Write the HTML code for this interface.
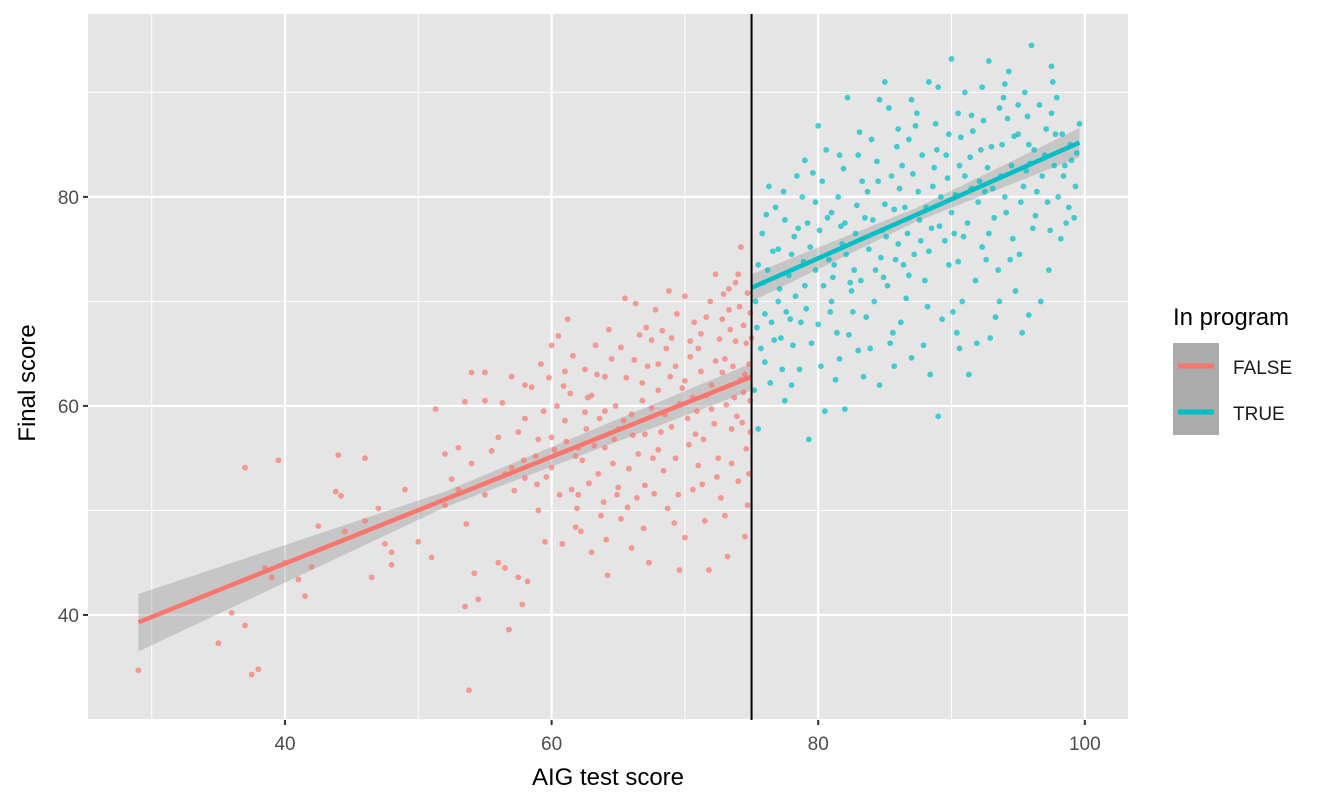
<!DOCTYPE html>
<html><head><meta charset="utf-8"><style>
body{margin:0;background:#fff;}
svg{display:block;font-family:"Liberation Sans",sans-serif;}
</style></head><body>
<svg id="chart" width="1344" height="806">
<rect x="88" y="14" width="1040" height="706" fill="#E5E5E5"/>
<g id="grid"></g><g id="ribbons"></g><g id="points"></g><g id="lines"></g><g id="axes"></g>
<line id="cutoff" stroke="#000" stroke-width="2"/>
<text x="608" y="785" font-size="24" text-anchor="middle" fill="#000">AIG test score</text>
<text transform="translate(35,383) rotate(-90)" font-size="24" text-anchor="middle" fill="#000">Final score</text>
<g>
<text x="1173" y="325" font-size="24" fill="#000">In program</text>
<rect x="1173" y="343" width="46" height="46" fill="#ABABAB"/>
<rect x="1173" y="389" width="46" height="46" fill="#ABABAB"/>
<line x1="1178" x2="1214" y1="366" y2="366" stroke="#F8766D" stroke-width="5"/>
<line x1="1178" x2="1214" y1="412" y2="412" stroke="#00BFC4" stroke-width="5"/>
<text x="1233" y="374" font-size="19" fill="#1a1a1a">FALSE</text>
<text x="1233" y="420" font-size="19" fill="#1a1a1a">TRUE</text>
</g>
</svg>
<script>
const xTicks=[40,60,80,100];
const xMinor=[30,50,70,90];
const yTicks=[40,60,80];
const yMinor=[30,50,70,90];
const cutoff=75;
const falsePts=[[29,34.7],[35,37.3],[36,40.2],[37,39],[37.5,34.3],[38,34.8],[37,54.1],[39.5,54.8],[39,43.6],[38.5,44.5],[40,45],[41,43.4],[41.5,41.8],[42,44.6],[42.5,48.5],[43.8,51.8],[44.2,51.4],[44,55.3],[44.5,48],[46,55],[46,49],[46.5,43.6],[47,50.2],[47.5,46.8],[48,44.8],[48,46],[51,45.5],[51.3,59.7],[52,55.4],[52.5,53],[53,52],[53.5,60.4],[53.6,48.7],[54,63.2],[54.2,44],[54.5,41.5],[53.8,32.8],[53.5,40.8],[55,63.2],[55.5,55.7],[56,45],[56.5,44.5],[56.8,38.6],[57,62.8],[57.5,43.6],[57.8,41],[58,58.8],[58,53.1],[58.5,61.8],[58.2,43.2],[59,50],[59.5,47],[60,65.8],[60,57],[60.5,66.7],[61,63.3],[61.2,68.3],[61.5,52],[61.8,48.4],[62,56],[62.5,59.4],[63,46],[63.5,53.5],[63.7,49.5],[64,62.8],[64.2,43.8],[64.5,64.5],[65,57.8],[65.5,70.3],[65.8,54],[66,46.4],[66.3,69.8],[66.8,60.5],[67,52.4],[67.3,45],[67.5,66.3],[68,61.5],[68,55.8],[68.3,67.2],[68.7,50.2],[69,58],[69.3,63.8],[69.6,44.3],[70,70.5],[70,47.4],[70.3,56.3],[70.6,60.8],[71,65.5],[71.3,52.5],[71.6,68.5],[71.8,44.3],[72,59.7],[72.3,72.6],[72.5,55],[72.8,63.2],[73,49.5],[73.3,69.2],[73.5,57.8],[73.8,66.2],[74,52.8],[74.2,75.2],[74.4,61.3],[74.6,55.9],[74.8,64],[74.9,68.9],[74.5,47.5],[73.9,59],[73.1,60.1],[72,62],[71,54.3],[70,62.4],[69,66.5],[68,64],[67,57.3],[66,59.2],[65,52.2],[64,56],[63,61],[62,51.5],[61,58.6],[60,54.1],[59,56.8],[58,62],[57,54.1],[56,57],[55,51.5],[54,54.5],[53,56],[52,50.5],[50,47],[49,52],[62.5,63.5],[63.3,65.8],[64.8,60],[65.6,62.7],[66.5,55.4],[67.8,69.2],[68.5,59.2],[69.8,61.7],[70.8,57.3],[71.2,63.3],[72.6,66.4],[73.6,63.8],[74.3,58.4],[74.7,70.8],[73.3,71.2],[71.9,70],[70.4,64.7],[69.3,55],[67.7,51.6],[66.2,64.4],[64.6,54.5],[63.6,58.8],[62.3,54.8],[61.4,61.2],[60.4,60],[59.4,59.5],[58.8,55.2],[57.5,57.5],[56.3,60.3],[55,60.5],[71.5,49],[73.2,45.6],[74.8,53.5],[72.7,51.2],[69.2,48.8],[66.9,48.3],[65.2,49.2],[64.1,47.2],[62.2,48],[60.8,46.8],[74,72.6],[72.8,68.3],[70.7,68],[68.8,71],[67.1,67.5],
[74.6,66],[74.2,62.5],[73.7,60.8],[73,64.5],[72.2,58.3],[71.6,61],[70.9,59.5],[70.2,58.8],[69.6,60.2],[68.9,62.8],[68.2,57.5],[67.5,59.8],[66.8,62.2],[66.1,57.2],[65.4,58.6],[64.7,56.8],[64,59.5],[63.2,56.2],[62.6,57.8],[61.8,55.2],[61.1,56.6],[60.2,55.8],[59.6,53.2],[58.9,52.5],[57.9,54.8],[57.2,51.9],[56.5,53.5],[74.9,57.5],[74.7,50.5],[73.5,54.5],[72.4,53.2],[71.4,56.8],[70.6,52],[69.5,51.5],[68.4,53.8],[67.6,55],[66.4,51.2],[65.7,50.3],[64.9,51.5],[63.9,50.8],[62.8,52.6],[61.9,50.2],[60.6,51.5],[74.4,67.7],[73.4,67.3],[72.3,64.3],[71.2,66.9],[70.4,66.2],[69.4,68.8],[68.6,65.5],[67.2,63.8],[66.6,66.8],[65.2,65.6],[64.3,67.3],[63.4,63],[62.7,60.8],[61.6,64.8],[60.9,61.9],[59.8,62.7],[59.2,64],[75,66.5],[74.9,60.5],[74.5,63],[74.1,69.5],[73.8,71.8],[72.9,70.7]];
const truePts=[[75.5,57.8],[76,64.2],[76.5,68],[77,75],[77.5,60.5],[78,62],[78.3,70.5],[78.8,80],[79,83.5],[79.3,56.8],[79.5,66],[80,67.8],[80,86.8],[80.5,59.5],[80.8,74],[81,78.5],[81.3,62.5],[81.6,84],[82,59.7],[82.2,89.5],[82.5,71],[82.8,76.5],[83,65.3],[83.3,81.5],[83.6,68.5],[84,85.5],[84.3,73],[84.6,62],[85,79.3],[85.3,88.5],[85.6,67],[86,75.5],[86.3,83],[86.6,70.3],[87,64.6],[87.3,86.8],[87.6,77.8],[88,72],[88.3,91],[88.6,81],[89,59],[89.3,68.3],[89.6,84],[90,93.2],[90.2,76.5],[90.5,88],[90.8,70],[91,82],[91.3,63],[91.6,86.3],[92,79.5],[92.3,90.5],[92.6,74],[93,84.8],[93.3,68.5],[93.6,88.5],[94,80],[94.3,92],[94.6,76],[95,86],[95.3,67],[95.6,82.5],[96,94.5],[96.3,78.2],[96.6,88.8],[97,84],[97.3,73],[97.6,91],[98,80],[98.3,86],[98.6,77.5],[99,83.5],[99.3,81],[99.6,87],[75.3,70],[75.8,76.5],[76.2,73],[76.8,79],[77.2,66.5],[77.8,72.5],[78.5,77],[79.8,73],[80.3,81.5],[81,70],[81.8,75.5],[82.3,66.8],[83.5,78],[84.5,81.5],[85.2,71.5],[86.5,79],[87.2,74.5],[87.8,84],[88.5,77],[89.2,80],[89.8,73.5],[90.6,83],[91.2,77.5],[91.8,72],[92.5,80.5],[93.2,78],[93.8,85],[94.5,83],[95.2,79.5],[95.8,85],[96.8,82],[97.8,86],[98.8,79],[75.5,73.5],[76,68.8],[76.3,81],[77,70],[77.5,77.8],[78,74.5],[78.7,68],[79.2,77.5],[79.8,79.5],[80.4,71.5],[81.2,73.5],[81.5,80],[82,77.5],[82.7,73],[83,84],[83.8,75],[84.2,70],[84.8,76.8],[85.5,82],[85.8,74],[86.2,68],[86.8,85.5],[87.5,80.5],[88.2,69.5],[88.8,87],[89.5,75.8],[90,78.5],[90.4,67],[91,90],[91.5,80.8],[92.2,84.5],[92.8,76.5],[93.5,73],[94.2,87.5],[94.8,71],[95.5,90],[96.2,84.5],[97.2,79.5],[97.5,88],[98.5,83],[99.2,78],[75.2,61.5],[75.7,65.5],[76.4,62.2],[77.3,63.5],[78.1,65.8],[79,71.5],[80.2,63.8],[81.4,67],[82.6,69],[83.9,65.5],[85.4,66],[86.8,72.5],[88.4,63],[90.1,69],[91.9,66],[93.6,70],[95.1,74.5],[96.7,70],[98.2,76],[85,91],[87,89.3],[89,90.5],[86,86.5],[84.6,89.3],[92.8,93],[95,88.8],[97.5,92.5],[89.8,86],[94,90.8],[91.5,87.8],
[75.4,67.5],[75.9,71.8],[76.6,74.8],[77.1,71.2],[77.6,69],[78.2,76.2],[78.9,73.8],[79.4,75.2],[80.1,76.8],[80.7,78],[81.1,72.3],[81.7,77.2],[82.1,74.5],[82.9,79.2],[83.2,72],[83.7,80.5],[84.1,77.8],[84.7,74.2],[85.1,76.2],[85.7,78.8],[86.1,80.8],[86.7,76.5],[87.1,82.2],[87.7,75.8],[88.1,79],[88.7,82.8],[89.1,77.2],[89.7,81.8],[90.3,80.2],[90.9,76.2],[91.4,83.8],[92.1,81.5],[92.7,82.8],[93.1,80.8],[93.7,82],[94.1,78.5],[94.7,85.8],[95.4,81],[95.9,83.2],[96.4,80.5],[97.1,86.5],[97.7,83],[98.4,82],[98.9,85],[99.4,84.2],[76.1,78.3],[77.4,80.5],[78.4,82],[79.6,82.3],[80.6,84.5],[81.9,82.7],[83.1,86.2],[84.4,83.4],[85.9,84.8],[87.4,88],[88.9,84.5],[90.7,85.7],[92.4,87.3],[93.9,89.5],[95.7,87.7],[97.9,89.5],[76.7,66.3],[77.9,68.3],[79.1,69.3],[80.9,69],[82.4,71.8],[84.9,72.3],[86.4,73.5],[88.3,74.8],[90.5,73.8],[92.3,75.2],[94.4,74],[96.1,77],[97.4,76.8],[78.6,63.5],[81.6,64.5],[83.4,62.8],[85.7,63.8],[87.9,65.8],[90.6,65.5],[92.9,66.5],[95.8,68.7]];
const falseFitX=[29,52,75];
const falseFitY=[39.3,51.05,62.8];
const falseLow=[36.5,50.3,61.5];
const falseHigh=[42.0,51.8,64.1];
const trueFitX=[75,87.3,99.6];
const trueFitY=[71.3,78.25,85.2];
const trueLow=[70.0,77.6,83.8];
const trueHigh=[72.6,78.9,86.6];

const X0=88,X1=1128,Y0=14,Y1=720,xmin=25.22,xmax=103.24,ymin=29.95,ymax=97.5;
const sx=v=>X0+(v-xmin)/(xmax-xmin)*(X1-X0);
const sy=v=>Y1-(v-ymin)/(ymax-ymin)*(Y1-Y0);
const NS='http://www.w3.org/2000/svg';
function mk(tag,parent,attrs){const e=document.createElementNS(NS,tag);for(const k in attrs)e.setAttribute(k,attrs[k]);parent.appendChild(e);return e;}
const grid=document.getElementById('grid'),axes=document.getElementById('axes');
xMinor.forEach(v=>{const e=mk('line',grid,{x1:sx(v),x2:sx(v),y1:Y0,y2:Y1,stroke:'#fff','stroke-width':1});

});
yMinor.forEach(v=>{const e=mk('line',grid,{x1:X0,x2:X1,y1:sy(v),y2:sy(v),stroke:'#fff','stroke-width':1});

});
xTicks.forEach(v=>{const e=mk('line',grid,{x1:sx(v),x2:sx(v),y1:Y0,y2:Y1,stroke:'#fff','stroke-width':2.2});


const t=mk('line',axes,{x1:sx(v),x2:sx(v),y1:Y1,y2:Y1+5,stroke:'#333','stroke-width':2});


const l=mk('text',axes,{x:sx(v),y:Y1+30,'font-size':19,'text-anchor':'middle',fill:'#4D4D4D'});l.textContent=v;

});
yTicks.forEach(v=>{const e=mk('line',grid,{x1:X0,x2:X1,y1:sy(v),y2:sy(v),stroke:'#fff','stroke-width':2.2});


const t=mk('line',axes,{x1:X0-5,x2:X0,y1:sy(v),y2:sy(v),stroke:'#333','stroke-width':2});


const l=mk('text',axes,{x:X0-9,y:sy(v)+7,'font-size':19,'text-anchor':'end',fill:'#4D4D4D'});l.textContent=v;

});
const rib=document.getElementById('ribbons');
function ribbon(xs,lo,hi,name){let p=xs.map((x,i)=>sx(x)+','+sy(hi[i]));for(let i=xs.length-1;i>=0;i--)p.push(sx(xs[i])+','+sy(lo[i]));
const e=mk('polygon',rib,{points:p.join(' '),fill:'#999','fill-opacity':0.4});

}
ribbon(falseFitX,falseLow,falseHigh,'ribbon-false');
ribbon(trueFitX,trueLow,trueHigh,'ribbon-true');
const pts=document.getElementById('points');
falsePts.forEach(p=>{const e=mk('circle',pts,{cx:sx(p[0]),cy:sy(p[1]),r:2.9,fill:'#F8766D','fill-opacity':0.7});

});
truePts.forEach(p=>{const e=mk('circle',pts,{cx:sx(p[0]),cy:sy(p[1]),r:2.9,fill:'#00BFC4','fill-opacity':0.7});

});
const ln=document.getElementById('lines');
const lf=mk('polyline',ln,{points:falseFitX.map((x,i)=>sx(x)+','+sy(falseFitY[i])).join(' '),fill:'none',stroke:'#F8766D','stroke-width':4.5});


const lt=mk('polyline',ln,{points:trueFitX.map((x,i)=>sx(x)+','+sy(trueFitY[i])).join(' '),fill:'none',stroke:'#00BFC4','stroke-width':4.5});


const c=document.getElementById('cutoff');
c.setAttribute('x1',sx(cutoff));c.setAttribute('x2',sx(cutoff));c.setAttribute('y1',Y0);c.setAttribute('y2',Y1);
</script>
</body></html>
